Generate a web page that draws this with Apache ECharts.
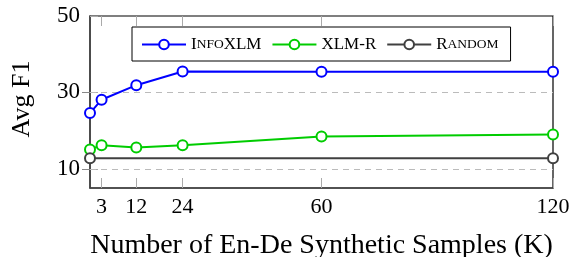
<!DOCTYPE html>
<html>
<head>
<meta charset="utf-8">
<script src="https://cdn.jsdelivr.net/npm/echarts@6/dist/echarts.min.js"></script>
<style>
    html, body { margin: 0; padding: 0; background: #fff; }
    #main { width: 573px; height: 257px; }
</style>
</head>
<body>
<div id="main"></div>
<script>
// 数据
var samplesK = [0, 3, 12, 24, 60, 120];
var infoXLM = [24.6, 28.1, 31.9, 35.5, 35.4, 35.4];
var xlmR = [15.1, 16.2, 15.6, 16.2, 18.5, 19.0];
var randomX = [0, 120];
var randomF1 = [12.8, 12.8];
var xTicks = [3, 12, 24, 60, 120];
var yTicks = [10, 30, 50];
var gridValues = [10, 30];

var serif = 'Liberation Serif';

function pairs(xs, ys) {
    var out = [];
    for (var i = 0; i < xs.length; i++) {
        out.push([xs[i], ys[i]]);
    }
    return out;
}

// 图例小型大写
var legendText = {
    'InfoXLM': '{n|I}{sc|NFO}{n|XLM}',
    'XLM-R': '{n|XLM-R}',
    'Random': '{n|R}{sc|ANDOM}'
};

function lineSeries(name, data, color) {
    return {
        name: name,
        type: 'line',
        data: data,
        symbol: 'emptyCircle',
        symbolSize: 10,
        showAllSymbol: true,
        lineStyle: { color: color, width: 2 },
        itemStyle: { color: color, borderColor: color, borderWidth: 2 },
        emphasis: { disabled: true },
        z: 3
    };
}

var chart = echarts.init(document.getElementById('main'));

var series = [
    lineSeries('InfoXLM', pairs(samplesK, infoXLM), '#0000ff'),
    lineSeries('XLM-R', pairs(samplesK, xlmR), '#00cc00'),
    lineSeries('Random', pairs(randomX, randomF1), '#404040')
];
// 虚线网格
series[2].markLine = {
    silent: true,
    symbol: 'none',
    label: { show: false },
    lineStyle: { color: '#bbbbbb', type: [6, 5], width: 1 },
    data: gridValues.map(function (v) { return { yAxis: v }; }),
    z: 1
};

var option = {
    animation: false,
    backgroundColor: '#ffffff',
    textStyle: { fontFamily: serif },
    grid: {
        left: 90, right: 20, top: 16, bottom: 69,
        outerBoundsMode: 'none',
        show: true,
        borderColor: '#000',
        borderWidth: 1.2,
        backgroundColor: 'transparent'
    },
    legend: {
        left: 132,
        top: 27,
        padding: [9, 12, 8, 9],
        itemWidth: 44,
        itemHeight: 12,
        itemGap: 10,
        borderColor: '#000',
        borderWidth: 1,
        backgroundColor: '#fff',
        data: ['InfoXLM', 'XLM-R', 'Random'],
        formatter: function (name) { return legendText[name]; },
        textStyle: {
            fontFamily: serif,
            rich: {
                n: { fontFamily: serif, fontSize: 17, color: '#000' },
                sc: { fontFamily: serif, fontSize: 13.5, color: '#000' }
            }
        }
    },
    xAxis: [{
        type: 'value',
        min: 0,
        max: 120,
        name: 'Number of En-De Synthetic Samples (K)',
        nameLocation: 'middle',
        nameGap: 44,
        nameTextStyle: { fontFamily: serif, fontSize: 28, color: '#000' },
        axisLine: { show: true, onZero: false, lineStyle: { color: '#444', width: 1.5 } },
        axisTick: { inside: true, length: 10, customValues: xTicks, lineStyle: { color: '#aaa' } },
        axisLabel: { customValues: xTicks, fontFamily: serif, fontSize: 22, color: '#000', margin: 8 },
        splitLine: { show: false }
    }, {
        type: 'value',
        position: 'top',
        min: 0,
        max: 120,
        axisLine: { show: false },
        axisTick: { inside: true, length: 10, customValues: xTicks, lineStyle: { color: '#aaa' } },
        axisLabel: { show: false },
        splitLine: { show: false }
    }],
    yAxis: [{
        type: 'value',
        min: 5,
        max: 50,
        name: 'Avg F1',
        nameLocation: 'middle',
        nameGap: 55,
        nameTextStyle: { fontFamily: serif, fontSize: 26, color: '#000', padding: [0, 0, 0, 6] },
        axisLine: { show: true, onZero: false, lineStyle: { color: '#444', width: 1.5 } },
        axisTick: { show: true, inside: true, length: 8, customValues: yTicks, lineStyle: { color: '#aaa' } },
        axisLabel: { customValues: yTicks, fontFamily: serif, fontSize: 23, color: '#000', margin: 10 },
        splitLine: { show: false }
    }, {
        type: 'value',
        position: 'right',
        min: 5,
        max: 50,
        axisLine: { show: false },
        axisTick: { show: true, inside: true, length: 8, customValues: gridValues, lineStyle: { color: '#888' } },
        axisLabel: { show: false },
        splitLine: { show: false }
    }],
    series: series
};

chart.setOption(option);
</script>
</body>
</html>
